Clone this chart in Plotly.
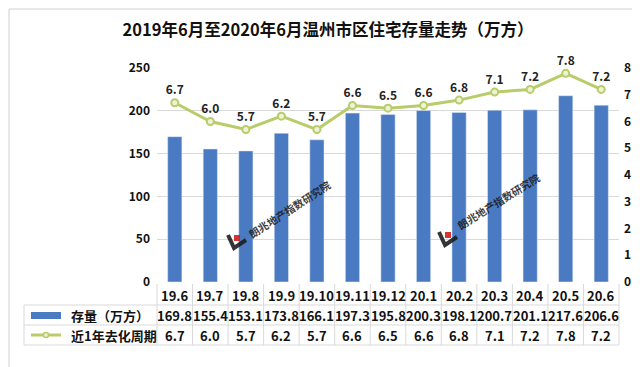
import plotly.graph_objects as go

categories = ["19.6", "19.7", "19.8", "19.9", "19.10", "19.11", "19.12", "20.1", "20.2", "20.3", "20.4", "20.5", "20.6"]
stock = [169.8, 155.4, 153.1, 173.8, 166.1, 197.3, 195.8, 200.3, 198.1, 200.7, 201.1, 217.6, 206.6]
cycle = [6.7, 6.0, 5.7, 6.2, 5.7, 6.6, 6.5, 6.6, 6.8, 7.1, 7.2, 7.8, 7.2]
series_names = ["存量（万方）", "近1年去化周期"]
title_text = "2019年6月至2020年6月温州市区住宅存量走势（万方）"
watermark = "朗兆地产指数研究院"

FONT = "Noto Sans CJK SC, Noto Sans, DejaVu Sans"
BAR_C = "#4a7bc2"
LINE_C = "#b8cc6a"
GRID_C = "#d9d9d9"

W, H = 640, 367
L, R, T, B = 149, 29, 60, 93
PH = H - T - B
PW = W - L - R

def py(Y):
    return (H - B - Y) / PH

def px(X):
    return (X - L) / PW

n = len(categories)
idx = list(range(n))

fig = go.Figure()
fig.add_trace(go.Bar(x=idx, y=stock, name=series_names[0], marker_color=BAR_C,
                     yaxis="y", showlegend=False))

shapes = []
annotations = []

# watermarks (logo + rotated text)
for (lx, ly), (tx, ty), ang in [((217, 218), (281, 201), -33), ((428, 215), (490, 193), -32)]:
    pts = [(lx + 3, ly + 9), (lx + 9, ly + 22), (lx + 21, ly + 14)]
    path = "M " + " L ".join(f"{px(x):.4f},{py(y):.4f}" for x, y in pts)
    shapes.append(dict(type="path", xref="paper", yref="paper", path=path,
                       line=dict(color="rgba(30,30,30,0.9)", width=4), layer="above"))
    shapes.append(dict(type="rect", xref="paper", yref="paper", x0=px(lx + 9), x1=px(lx + 15), y0=py(ly + 15), y1=py(ly + 9),
                       fillcolor="rgba(210,30,30,0.9)", line=dict(width=0), layer="above"))
    annotations.append(dict(x=px(tx), y=py(ty), xref="paper", yref="paper", text=f"<b>{watermark}</b>",
                            xanchor="center", yanchor="middle",
                            showarrow=False, textangle=ang, font=dict(family=FONT, size=10.5, color="rgba(25,25,25,0.85)")))

fig.add_trace(go.Scatter(x=idx, y=cycle, name=series_names[1], yaxis="y2",
                         mode="lines+markers+text", text=[f"<b>{v:.1f}</b>" for v in cycle],
                         textposition="top center",
                         textfont=dict(family=FONT, size=12, color="#222"),
                         line=dict(color=LINE_C, width=3),
                         marker=dict(size=7, color="#eef3d8", line=dict(color=LINE_C, width=2)),
                         showlegend=False, cliponaxis=False))

line_style = dict(color=GRID_C, width=1)
for Y in [297, 317, 337]:
    shapes.append(dict(type="line", xref="paper", yref="paper", x0=px(16), x1=1, y0=py(Y), y1=py(Y), line=line_style))
for i in range(n + 1):
    X = L + PW * i / n
    shapes.append(dict(type="line", xref="paper", yref="paper", x0=px(X), x1=px(X), y0=py(276), y1=py(337), line=line_style))
shapes.append(dict(type="line", xref="paper", yref="paper", x0=px(16), x1=px(16), y0=py(297), y1=py(337), line=line_style))

rows = [(287, categories), (307, [f"{v:.1f}" for v in stock]), (327, [f"{v:.1f}" for v in cycle])]
for Y, vals in rows:
    for i, v in zip(idx, vals):
        annotations.append(dict(x=i, xref="x", y=py(Y), yref="paper", text=f"<b>{v}</b>", showarrow=False,
                                font=dict(family=FONT, size=13, color="#111"), xanchor="center", yanchor="middle"))

shapes.append(dict(type="rect", xref="paper", yref="paper", x0=px(23), x1=px(53), y0=py(311), y1=py(304),
                   fillcolor=BAR_C, line=dict(width=0)))
shapes.append(dict(type="line", xref="paper", yref="paper", x0=px(23), x1=px(53), y0=py(327), y1=py(327),
                   line=dict(color=LINE_C, width=3)))
shapes.append(dict(type="circle", xref="paper", yref="paper", x0=px(35.5), x1=px(40.5), y0=py(329.5), y1=py(324.5),
                   fillcolor="#eef3d8", line=dict(color=LINE_C, width=1.5)))
annotations.append(dict(x=px(61), y=py(307), xref="paper", yref="paper", text=f"<b>{series_names[0]}</b>",
                        showarrow=False, xanchor="left", yanchor="middle", font=dict(family=FONT, size=13, color="#111")))
annotations.append(dict(x=px(61), y=py(327), xref="paper", yref="paper", text=f"<b>{series_names[1]}</b>",
                        showarrow=False, xanchor="left", yanchor="middle", font=dict(family=FONT, size=13, color="#111")))

shapes.append(dict(type="rect", xref="paper", yref="paper", x0=px(1), x1=px(W - 2), y0=py(1), y1=py(H - 2),
                   line=dict(color="#d0d0d0", width=1), fillcolor="rgba(0,0,0,0)"))

fig.update_layout(
    width=W, height=H,
    margin=dict(l=L, r=R, t=T, b=B),
    paper_bgcolor="white", plot_bgcolor="white",
    title=dict(text=f"<b>{title_text}</b>", x=0.5, xref="container", xanchor="center", y=1 - 22 / H, yanchor="middle",
               font=dict(family=FONT, size=16.5, color="#111")),
    xaxis=dict(range=[-0.5, n - 0.5], showticklabels=False, showgrid=False, zeroline=False, showline=False, ticks=""),
    yaxis=dict(range=[0, 250], dtick=50, showgrid=True, gridcolor=GRID_C, zeroline=False,
               tickfont=dict(family=FONT, size=12, color="#111"), ticklabelstandoff=6),
    yaxis2=dict(range=[0, 8], dtick=1, overlaying="y", side="right", showgrid=False, zeroline=False,
                tickfont=dict(family=FONT, size=12, color="#111"), ticklabelstandoff=4),
    bargap=0.6,
    shapes=shapes, annotations=annotations,
    font=dict(family=FONT),
)
fig.update_yaxes(tickprefix="<b>", ticksuffix="</b>")

fig.write_html("out.html")
